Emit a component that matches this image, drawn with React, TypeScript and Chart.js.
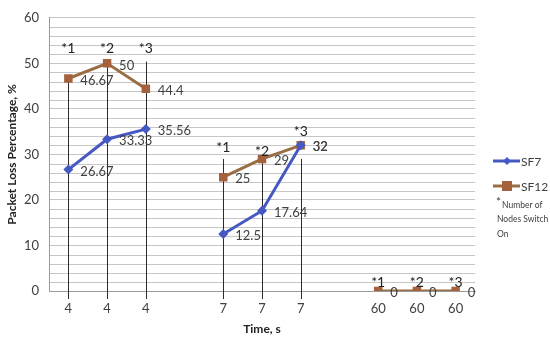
import React, { useEffect, useRef } from "react";
import { Chart, registerables } from "chart.js";

Chart.register(...registerables);

const categories = ["4", "4", "4", "", "7", "7", "7", "", "60", "60", "60"];
const sf7Values = [26.67, 33.33, 35.56, null, 12.5, 17.64, 32, null, null, null, null];
const sf12Values = [46.67, 50, 44.4, null, 25, 29, 32, null, 0, 0, 0];
const nodeLabels = ["*1", "*2", "*3", "", "*1", "*2", "*3", "", "*1", "*2", "*3"];
const nodeLabelY = [53.3, 53.3, 53.3, null, 31.6, 30.6, 35, null, 1.8, 1.8, 1.8];
const dropLineTop = [46.67, 50, 50.4, null, 29, 29.5, 29, null, null, null, null];
const yTickLabels = [0, 10, 20, 30, 40, 50, 60];
const yMinorGrid = [
  2, 4, 6, 8, 12, 14, 16, 18, 22, 24, 26, 28, 32, 34, 36, 38,
  42, 44, 46, 48, 52, 54, 56, 58,
];
const noteLines = ["Number of", "Nodes Switch", "On"];

const FONT = "Lato, 'Liberation Sans', Arial, sans-serif";
const BLUE = "#4658c2";
const BROWN_LINE = "#9a6e45";
const BROWN_MARK = "#a5603c";
const GRID = "#c6c6c6";

const overlayPlugin = {
  id: "overlay",
  beforeDraw(chart: any) {
    const ctx = chart.ctx;
    const y = chart.scales.y;
    const area = chart.chartArea;
    if (!y || !area) return;
    ctx.save();
    ctx.strokeStyle = GRID;
    ctx.lineWidth = 1;
    yMinorGrid.forEach((v) => {
      const py = Math.round(y.getPixelForValue(v)) + 0.5;
      ctx.beginPath();
      ctx.moveTo(area.left, py);
      ctx.lineTo(area.right, py);
      ctx.stroke();
    });
    ctx.restore();
  },
  beforeDatasetsDraw(chart: any) {
    const ctx = chart.ctx;
    const x = chart.scales.x;
    const y = chart.scales.y;
    ctx.save();
    ctx.strokeStyle = "#2b2b2b";
    ctx.lineWidth = 1;
    dropLineTop.forEach((v, i) => {
      if (v === null) return;
      const px = Math.round(x.getPixelForValue(i)) + 0.5;
      ctx.beginPath();
      ctx.moveTo(px, y.getPixelForValue(v));
      ctx.lineTo(px, y.bottom + 8);
      ctx.stroke();
    });
    ctx.restore();
  },
  afterDatasetsDraw(chart: any) {
    const ctx = chart.ctx;
    const x = chart.scales.x;
    const y = chart.scales.y;
    ctx.save();
    // data labels
    ctx.font = "13px " + FONT;
    ctx.fillStyle = "#404040";
    ctx.textAlign = "left";
    ctx.textBaseline = "middle";
    chart.data.datasets.forEach((ds: any, di: number) => {
      const meta = chart.getDatasetMeta(di);
      ds.data.forEach((v: any, i: number) => {
        if (v === null) return;
        const pt = meta.data[i];
        ctx.fillText(String(v), pt.x + 12, pt.y + 2);
      });
    });
    // node labels
    ctx.font = "14px " + FONT;
    ctx.fillStyle = "#222";
    ctx.textAlign = "center";
    nodeLabels.forEach((t, i) => {
      const v = nodeLabelY[i];
      if (!t || v === null) return;
      ctx.fillText(t, x.getPixelForValue(i), y.getPixelForValue(v));
    });
    // legend
    const items = [
      { label: "SF7", color: BLUE, mark: BLUE, style: "diamond", ly: 161 },
      { label: "SF12", color: BROWN_LINE, mark: BROWN_MARK, style: "square", ly: 186 },
    ];
    items.forEach((it) => {
      ctx.strokeStyle = it.color;
      ctx.lineWidth = 3;
      ctx.beginPath();
      ctx.moveTo(493, it.ly);
      ctx.lineTo(520, it.ly);
      ctx.stroke();
      ctx.fillStyle = it.mark;
      if (it.style === "square") {
        ctx.fillRect(502, it.ly - 5, 10, 10);
      } else {
        ctx.beginPath();
        ctx.moveTo(507, it.ly - 4);
        ctx.lineTo(511, it.ly);
        ctx.lineTo(507, it.ly + 4);
        ctx.lineTo(503, it.ly);
        ctx.closePath();
        ctx.fill();
      }
      ctx.fillStyle = "#404040";
      ctx.font = "12px " + FONT;
      ctx.textAlign = "left";
      ctx.fillText(it.label, 521, it.ly + 1);
    });
    ctx.fillStyle = "#404040";
    ctx.font = "12px " + FONT;
    ctx.fillText("*", 496, 202);
    ctx.font = "8.5px " + FONT;
    noteLines.forEach((t, i) => {
      ctx.fillText(t, i === 0 ? 502 : 497, 205 + i * 14.5);
    });
    ctx.restore();
  },
};

export default function App() {
  const ref = useRef<HTMLCanvasElement>(null);
  useEffect(() => {
    const chart = new Chart(ref.current as HTMLCanvasElement, {
      type: "line",
      data: {
        labels: categories,
        datasets: [
          {
            label: "SF7",
            data: sf7Values,
            borderColor: BLUE,
            backgroundColor: BLUE,
            borderWidth: 3,
            pointStyle: "rectRot",
            pointRadius: 5,
            pointBorderWidth: 0,
            pointBackgroundColor: BLUE,
            spanGaps: false,
          },
          {
            label: "SF12",
            data: sf12Values,
            borderColor: BROWN_LINE,
            backgroundColor: BROWN_MARK,
            borderWidth: 3,
            pointStyle: "rect",
            pointRadius: 6,
            pointBorderWidth: 0,
            pointBackgroundColor: BROWN_MARK,
            spanGaps: false,
          },
        ],
      },
      options: {
        responsive: false,
        animation: false,
        layout: { padding: { left: 0, right: 75, top: 10, bottom: 0 } },
        plugins: { legend: { display: false }, tooltip: { enabled: false } },
        scales: {
          x: {
            offset: true,
            grid: { display: false, drawTicks: false },
            border: { color: "#9a9a9a", width: 1 },
            ticks: { color: "#404040", font: { size: 13, family: FONT }, padding: 10, autoSkip: false, maxRotation: 0 },
            title: {
              display: true,
              text: "Time, s",
              color: "#222",
              font: { size: 12, weight: "bold", family: FONT },
              padding: { top: 0, bottom: 4 },
            },
            afterFit(scale: any) {
              scale.height = 49;
            },
          },
          y: {
            min: 0,
            max: 60,
            grid: { color: GRID, drawTicks: false },
            border: { color: "#9a9a9a", width: 1 },
            afterBuildTicks(scale: any) {
              scale.ticks = yTickLabels.map((v) => ({ value: v }));
            },
            ticks: {
              autoSkip: false,
              color: "#404040",
              font: { size: 13, family: FONT },
              padding: 10,
            },
            title: {
              display: true,
              text: "Packet Loss Percentage, %",
              color: "#222",
              font: { size: 12, weight: "bold", family: FONT },
              padding: { top: 5, bottom: 0 },
            },
            afterFit(scale: any) {
              scale.width = 49;
            },
          },
        },
      },
      plugins: [overlayPlugin],
    } as any);
    return () => chart.destroy();
  }, []);
  return (
    <div style={{ position: "fixed", left: 0, top: 0, width: 550, height: 340, background: "#fff" }}>
      <canvas ref={ref} width={550} height={340} />
    </div>
  );
}
